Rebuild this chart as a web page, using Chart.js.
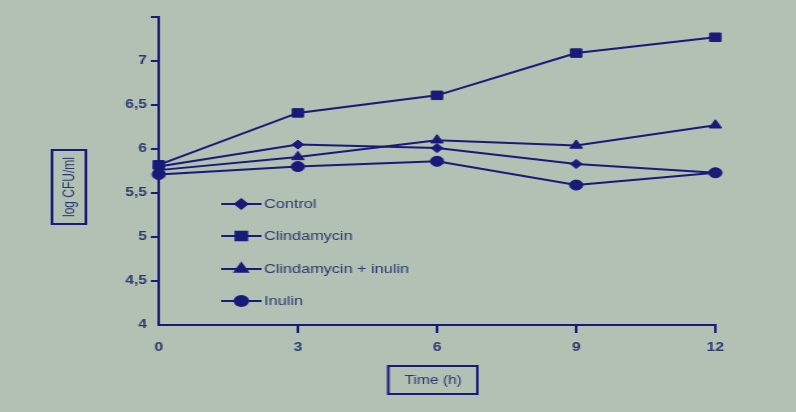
<!DOCTYPE html>
<html>
<head>
<meta charset="utf-8">
<script src="https://cdn.jsdelivr.net/npm/chart.js@4/dist/chart.umd.min.js"></script>
<style>
  body { margin: 0; background: #b2c1b3; }
  #growthChart { display: block; }
</style>
</head>
<body>
<!-- the original figure is stretched sideways, so the canvas is too -->
<canvas id="growthChart" width="612" height="412" style="width:796px;height:412px"></canvas>
<script>
// time points (h)
const timeHours = [0, 3, 6, 9, 12];

// log CFU/ml per group
const controlValues = [5.80, 6.05, 6.01, 5.83, 5.73];
const clindamycinValues = [5.82, 6.41, 6.61, 7.09, 7.27];
const clindaInulinValues = [5.76, 5.91, 6.10, 6.04, 6.27];
const inulinValues = [5.71, 5.80, 5.86, 5.59, 5.73];

const seriesLabels = ["Control", "Clindamycin", "Clindamycin + inulin", "Inulin"];
const xTicks = [0, 3, 6, 9, 12];
const yTicks = [4, 4.5, 5, 5.5, 6, 6.5, 7, 7.5];

const axisTitleX = "Time (h)";
const axisTitleY = "log CFU/ml";

const navy = '#1a1a7a';
const textColor = '#2d3a72';
const bgColor = '#b2c1b3';


function toPoints(values) {
  return values.map((v, i) => ({ x: timeHours[i], y: v }));
}

function makeSet(label, values, style, radius) {
  return {
    label: label,
    data: toPoints(values),
    borderColor: navy,
    backgroundColor: navy,
    borderWidth: 2,
    pointStyle: style,
    pointRadius: radius,
    pointBackgroundColor: navy,
    pointBorderColor: navy,
    pointBorderWidth: 1,
    tension: 0,
    clip: false
  };
}

const datasets = [
  makeSet(seriesLabels[0], controlValues, 'rectRot', 4.5),
  makeSet(seriesLabels[1], clindamycinValues, 'rect', 6),
  makeSet(seriesLabels[2], clindaInulinValues, 'triangle', 5.5),
  makeSet(seriesLabels[3], inulinValues, 'circle', 5)
];


// background, legend inside the plot and the boxed axis titles
const paperPlugin = {
  id: 'paper',
  beforeDraw(chart) {
    const ctx = chart.ctx;
    ctx.save();
    ctx.fillStyle = bgColor;
    ctx.fillRect(0, 0, chart.width, chart.height);
    ctx.restore();
  },
  afterDraw(chart) {
    const ctx = chart.ctx;
    ctx.save();

    // legend
    const rowsY = [204, 236, 269, 301];
    chart.data.datasets.forEach((ds, i) => {
      const y = rowsY[i];
      ctx.strokeStyle = navy;
      ctx.lineWidth = 2;
      ctx.beginPath();
      ctx.moveTo(170, y);
      ctx.lineTo(201, y);
      ctx.stroke();
      ctx.fillStyle = navy;
      Chart.helpers.drawPoint(ctx, {
        pointStyle: ds.pointStyle,
        radius: ds.pointRadius,
        rotation: 0,
        borderWidth: 1
      }, 185.5, y);
      ctx.fillStyle = textColor;
      ctx.font = '12.5px "Liberation Sans", Arial, sans-serif';
      ctx.textAlign = 'left';
      ctx.textBaseline = 'middle';
      ctx.fillText(ds.label, 203, y + 1);
    });

    // y title in a box
    ctx.strokeStyle = navy;
    ctx.lineWidth = 2;
    ctx.strokeRect(40, 150, 26, 74);
    ctx.save();
    ctx.translate(53.5, 187);
    ctx.rotate(-Math.PI / 2);
    ctx.fillStyle = textColor;
    ctx.font = '12px "Liberation Sans", Arial, sans-serif';
    ctx.textAlign = 'center';
    ctx.textBaseline = 'middle';
    ctx.fillText(axisTitleY, 0, 0);
    ctx.restore();

    // x title in a box
    ctx.strokeRect(298.5, 366, 68.5, 28);
    ctx.fillStyle = textColor;
    ctx.font = '12px "Liberation Sans", Arial, sans-serif';
    ctx.textAlign = 'center';
    ctx.textBaseline = 'middle';
    ctx.fillText(axisTitleX, 333, 381);

    ctx.restore();
  }
};


new Chart(document.getElementById('growthChart'), {
  type: 'line',
  data: { datasets: datasets },
  options: {
    responsive: false,
    animation: false,
    layout: { padding: { left: 0, top: 17, right: 62, bottom: 0 } },
    plugins: {
      legend: { display: false },
      tooltip: { enabled: false }
    },
    scales: {
      x: {
        type: 'linear',
        min: 0,
        max: 12,
        afterFit(scale) { scale.height = 87; },
        afterBuildTicks(scale) { scale.ticks = xTicks.map(v => ({ value: v })); },
        grid: {
          drawOnChartArea: false,
          drawTicks: true,
          tickLength: 8,
          lineWidth: 2,
          color: (c) => (c.tick && c.tick.value === 0) ? 'rgba(0,0,0,0)' : navy
        },
        border: { display: true, color: navy, width: 2 },
        ticks: {
          padding: 7,
          color: textColor,
          font: { family: '"Liberation Sans", Arial, sans-serif', size: 12, weight: 'bold' }
        }
      },
      y: {
        min: 4,
        max: 7.5,
        afterFit(scale) { scale.width = 122; },
        afterBuildTicks(scale) { scale.ticks = yTicks.map(v => ({ value: v })); },
        grid: {
          drawOnChartArea: false,
          drawTicks: true,
          tickLength: 6,
          lineWidth: 2,
          color: (c) => (c.tick && c.tick.value === 4) ? 'rgba(0,0,0,0)' : navy
        },
        border: { display: true, color: navy, width: 2 },
        ticks: {
          padding: 3,
          color: textColor,
          font: { family: '"Liberation Sans", Arial, sans-serif', size: 12, weight: 'bold' },
          callback: (v) => v === 7.5 ? '' : String(v).replace('.', ',')
        }
      }
    }
  },
  plugins: [paperPlugin]
});
</script>
</body>
</html>
